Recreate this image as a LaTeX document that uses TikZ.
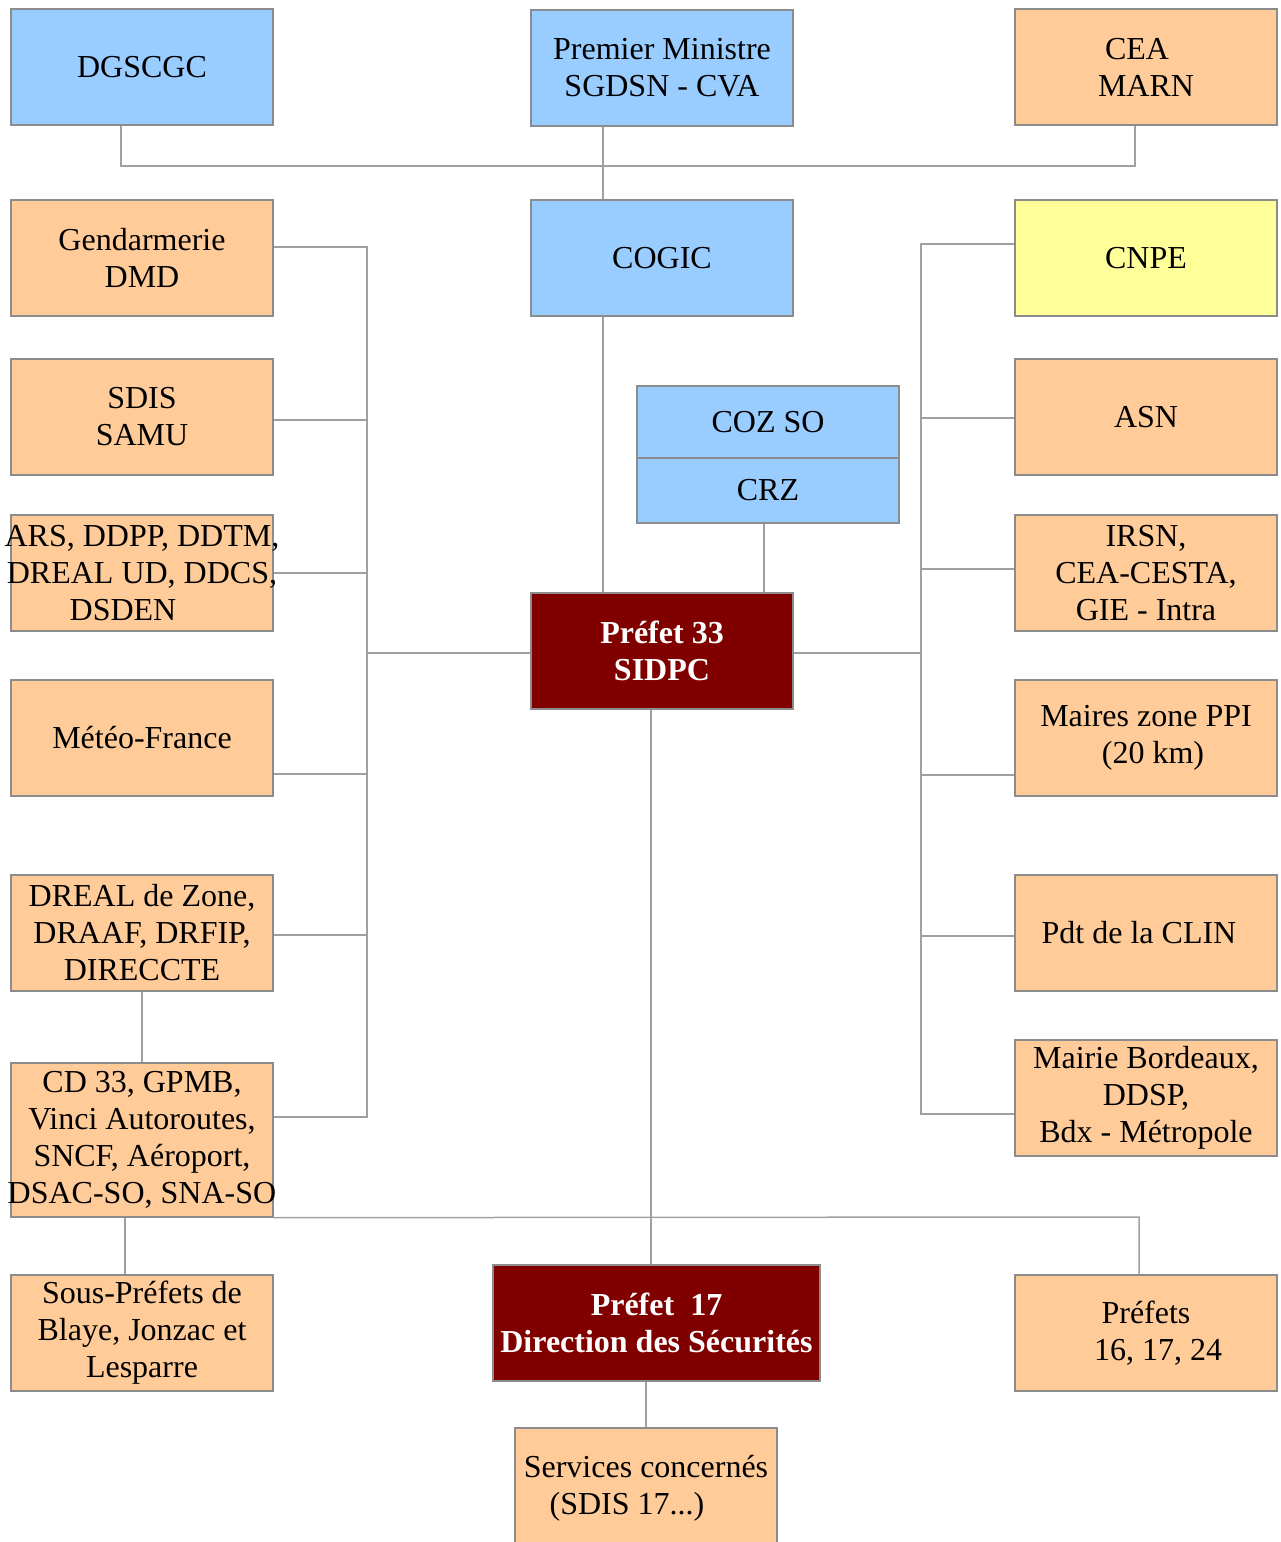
\documentclass[tikz,border=0pt]{standalone}
\usepackage{fontspec}
\setmainfont{Liberation Serif}
\definecolor{bblue}{HTML}{99CCFF}
\definecolor{borange}{HTML}{FFCC99}
\definecolor{byellow}{HTML}{FFFF99}
\definecolor{bred}{HTML}{800000}
\definecolor{bord}{HTML}{8C8C8C}
\definecolor{lin}{HTML}{A0A0A0}
\begin{document}
\begin{tikzpicture}[x=1pt,y=-1pt,
  box/.style={draw=bord, line width=1.3pt, minimum width=262pt, minimum height=116pt,
    inner sep=0pt, align=center, font=\fontsize{32}{37}\selectfont, anchor=center},
  bl/.style={box, fill=bblue},
  ob/.style={box, fill=borange},
  yb/.style={box, fill=byellow},
  rb/.style={box, fill=bred, text=white, font=\fontsize{32}{37}\selectfont\bfseries},
  conn/.style={draw=lin, line width=1.5pt}]
\useasboundingbox (0,0) rectangle (1280,1542);
\fill[white] (0,0) rectangle (1280,1542);

% nodes
\node[bl] (dgscgc) at (142,67) {DGSCGC};
\node[bl] (pm) at (662,68) {Premier Ministre\\SGDSN - CVA};
\node[ob] (cea) at (1146,67) {CEA\hspace*{18pt}\\MARN};
\node[ob] (gend) at (142,258) {Gendarmerie\\DMD};
\node[bl] (cogic) at (662,258) {COGIC};
\node[yb] (cnpe) at (1146,258) {CNPE};
\node[ob] (sdis) at (142,417) {SDIS\\SAMU};
\node[ob, inner xsep=-10pt] (ars) at (142,573) {ARS, DDPP, DDTM,\\DREAL UD, DDCS,\\DSDEN\hspace*{38pt}};
\node[ob] (meteo) at (142,738) {Météo-France};
\node[ob] (dreal) at (142,933) {DREAL de Zone,\\DRAAF, DRFIP,\\DIRECCTE};
\node[ob, minimum height=154pt, inner xsep=-10pt] (cd33) at (142,1140) {CD 33, GPMB,\\Vinci Autoroutes,\\SNCF, Aéroport,\\DSAC-SO, SNA-SO};
\node[ob] (sousp) at (142,1333) {Sous-Préfets de\\Blaye, Jonzac et\\Lesparre};
\node[bl, minimum height=72pt] (cozso) at (768,422) {COZ SO};
\node[bl, minimum height=65pt] (crz) at (768,490.5) {CRZ};
\node[rb] (p33) at (662,651) {Préfet 33\\SIDPC};
\node[rb, minimum width=327pt] (p17) at (656.5,1323) {Préfet\ \ 17\\Direction des Sécurités};
\node[ob] (asn) at (1146,417) {ASN};
\node[ob] (irsn) at (1146,573) {IRSN,\\CEA-CESTA,\\GIE - Intra};
\node[ob] (maires) at (1146,738) {Maires zone PPI\\\hspace*{14pt}(20 km)};
\node[ob] (clin) at (1146,933) {Pdt de la CLIN\hspace*{14pt}};
\node[ob] (mairie) at (1146,1098) {Mairie Bordeaux,\\DDSP,\\Bdx - Métropole};
\node[ob] (prefets) at (1146,1333) {Préfets\\\hspace*{24pt}16, 17, 24};
\node[ob, minimum height=120pt] (serv) at (646,1488) {Services concernés\\(SDIS 17...)\hspace*{38pt}};

% junction coordinates
\coordinate (b1) at (121,166);
\coordinate (b2) at (1135,166);
\coordinate (cv) at (603,166);
\coordinate (cz) at (764,560);
\coordinate (pd) at (651,1217);
\coordinate (bb) at (1139,1217);
\coordinate (sx) at (125,1250);
\coordinate (jg) at (367,247);
\coordinate (js) at (367,420);
\coordinate (ja) at (367,573);
\coordinate (jp) at (367,653);
\coordinate (jm) at (367,774);
\coordinate (jd) at (367,935);
\coordinate (jc) at (367,1117);
\coordinate (kc) at (921,244);
\coordinate (ka) at (921,418);
\coordinate (ki) at (921,569);
\coordinate (kp) at (921,653);
\coordinate (km) at (921,775);
\coordinate (kl) at (921,936);
\coordinate (kb) at (921,1114);

% top connectors
\draw[conn] (dgscgc.south -| b1) -- (b1) -- (b2) -- (cea.south -| b2);
\draw[conn] (pm.south -| cv) -- (cogic.north -| cv);
\draw[conn] (cogic.south -| cv) -- (p33.north -| cv);
\draw[conn] (crz.south -| cz) -- (p33.north -| cz);

% left bus
\draw[conn] (gend.east |- jg) -- (jg) -- (jc) -- (cd33.east |- jc);
\draw[conn] (sdis.east |- js) -- (js);
\draw[conn] (ars.east |- ja) -- (ja);
\draw[conn] (meteo.east |- jm) -- (jm);
\draw[conn] (dreal.east |- jd) -- (jd);
\draw[conn] (jp) -- (p33.west |- jp);

% right bus
\draw[conn] (cnpe.west |- kc) -- (kc) -- (kb) -- (mairie.west |- kb);
\draw[conn] (asn.west |- ka) -- (ka);
\draw[conn] (irsn.west |- ki) -- (ki);
\draw[conn] (maires.west |- km) -- (km);
\draw[conn] (clin.west |- kl) -- (kl);
\draw[conn] (kp) -- (p33.east |- kp);

% lower connectors
\draw[conn] (dreal.south) -- (cd33.north);
\draw[conn] (cd33.south -| sx) -- (sousp.north -| sx);
\draw[conn] (cd33.south east) -- (bb) -- (prefets.north -| bb);
\draw[conn] (p33.south -| pd) -- (p17.north -| pd);
\draw[conn] (p17.south -| serv.north) -- (serv.north);
\end{tikzpicture}
\end{document}
